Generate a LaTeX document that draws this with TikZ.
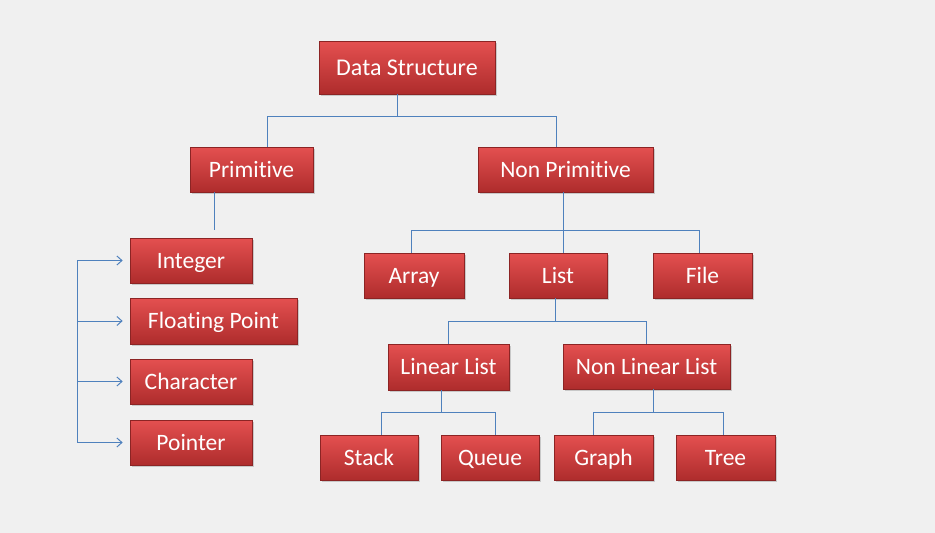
\documentclass[tikz,border=0pt]{standalone}
\usepackage{fontspec}
\setmainfont[Ligatures=NoCommon]{Carlito}
\usetikzlibrary{arrows.meta,shadows}
\definecolor{boxtop}{RGB}{228,80,80}
\definecolor{boxbot}{RGB}{174,44,44}
\definecolor{boxline}{RGB}{140,36,36}
\definecolor{linkblue}{RGB}{79,129,189}
\definecolor{paper}{RGB}{240,240,240}
\begin{document}
\begin{tikzpicture}
        [x=1pt,y=-1pt,
        box/.style={rectangle, draw=boxline, line width=0.7pt, top color=boxtop, bottom color=boxbot,
            text=white, inner sep=0pt, minimum height=45pt, font=\fontsize{23.5}{26}\selectfont,
            text height=17.5pt, text depth=2.5pt,
            drop shadow={shadow xshift=2pt, shadow yshift=-2pt, opacity=0.35}},
        link/.style={linkblue, line width=1pt},
        arrow/.style={link, -{Straight Barb[length=5pt, width=9pt]}, shorten >=7pt}]

        % page
        \fill[paper] (0,0) rectangle (935,533);
        \useasboundingbox (0,0) rectangle (935,533);

        % top levels
        \node[box, minimum width=176pt, minimum height=53pt, font=\fontsize{24}{26}\selectfont] (ds) at (407,67.5) {Data Structure};
        \node[box, minimum width=123pt] (prim) at (251.5,169.5) {Primitive};
        \node[box, minimum width=175pt] (np) at (565.5,169.5) {Non Primitive};

        % primitive types
        \node[box, minimum width=122pt] (int) at (191,260.5) {Integer};
        \node[box, minimum width=167pt, minimum height=46pt] (fp) at (213.5,321) {Floating Point};
        \node[box, minimum width=122pt] (char) at (191,381.5) {Character};
        \node[box, minimum width=122pt] (ptr) at (191,442.5) {Pointer};

        % non primitive types
        \node[box, minimum width=100pt] (array) at (414,275.5) {Array};
        \node[box, minimum width=98pt] (list) at (558,275.5) {List};
        \node[box, minimum width=99pt] (file) at (702.5,275.5) {File};
        \node[box, minimum width=121pt, minimum height=46pt] (ll) at (448.5,367) {Linear List};
        \node[box, minimum width=167pt] (nll) at (646.5,366.5) {Non Linear List};
        \node[box, minimum width=98pt] (stack) at (369,457.5) {Stack};
        \node[box, minimum width=98pt] (queue) at (490,457.5) {Queue};
        \node[box, minimum width=99pt] (graph) at (603.5,457.5) {Graph};
        \node[box, minimum width=99pt] (tree) at (725.5,457.5) {Tree};

        % tree connectors
        \draw[link] ([xshift=-10pt]ds.south) -- ++(0,22) -| ([xshift=15.5pt]prim.north);
        \draw[link] ([xshift=-10pt]ds.south) -- ++(0,22) -| ([xshift=-9.5pt]np.north);
        \draw[link] ([xshift=-37.5pt]prim.south) -- ++(0,38);
        \draw[link] ([xshift=-2.5pt]np.south) -- ++(0,38) -| ([xshift=-3pt]array.north);
        \draw[link] ([xshift=-2.5pt]np.south) -- ([xshift=5pt]list.north);
        \draw[link] ([xshift=-2.5pt]np.south) -- ++(0,38) -| ([xshift=-3.5pt]file.north);
        \draw[link] ([xshift=-3pt]list.south) -- ++(0,23) -| (ll.north);
        \draw[link] ([xshift=-3pt]list.south) -- ++(0,23) -| (nll.north);
        \draw[link] ([xshift=-7.5pt]ll.south) -- ++(0,22) -| ([xshift=12pt]stack.north);
        \draw[link] ([xshift=-7.5pt]ll.south) -- ++(0,22) -| ([xshift=5pt]queue.north);
        \draw[link] ([xshift=6.5pt]nll.south) -- ++(0,23) -| ([xshift=-10.5pt]graph.north);
        \draw[link] ([xshift=6.5pt]nll.south) -- ++(0,23) -| ([xshift=-2.5pt]tree.north);

        % bracket with arrows
        \coordinate (bus) at (77,0);
        \draw[link] (bus |- int.west) -- (bus |- ptr.west);
        \draw[arrow] (bus |- int.west) -- (int.west);
        \draw[arrow] (bus |- fp.west) -- (fp.west);
        \draw[arrow] (bus |- char.west) -- (char.west);
        \draw[arrow] (bus |- ptr.west) -- (ptr.west);

\end{tikzpicture}
\end{document}
